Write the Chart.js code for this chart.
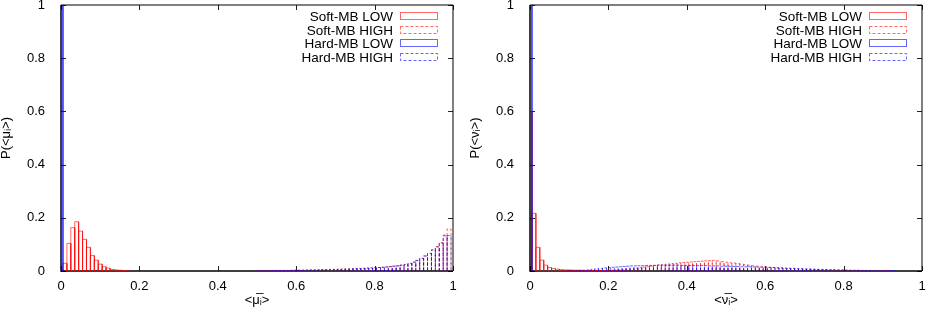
<!DOCTYPE html>
<html>
<head>
<meta charset="utf-8">
<script src="https://cdn.jsdelivr.net/npm/chart.js@4.4.1/dist/chart.umd.min.js"></script>
<style>
  html, body { margin: 0; padding: 0; background: #fff; }
  #wrap { position: relative; width: 926px; height: 314px; overflow: hidden; }
  canvas { position: absolute; top: 0; }
  #muChart { left: 0; }
  #nuChart { left: 469px; }
</style>
</head>
<body>
<div id="wrap">
  <canvas id="muChart" width="463" height="314"></canvas>
  <canvas id="nuChart" width="457" height="314"></canvas>
</div>
<script>
// histogram bins are 0.01 wide, centred on k * binWidth
const binWidth = 0.01;
const seriesNames = ['Soft-MB LOW', 'Soft-MB HIGH', 'Hard-MB LOW', 'Hard-MB HIGH'];
const axisTicks = [0, 0.2, 0.4, 0.6, 0.8, 1];

// <mu_i> panel
const muSoftLowStart = 0;
const muSoftLow = [0.005, 0.029, 0.104, 0.163, 0.185, 0.150, 0.119, 0.089, 0.058, 0.041,
                   0.026, 0.016, 0.011, 0.006, 0.004, 0.003, 0.002, 0.001];
const muHardLowStart = 0;
const muHardLow = [1.0];
const muSoftHighStart = 50;
const muSoftHigh = [0.001, 0.001, 0.001, 0.001, 0.002, 0.002, 0.002, 0.002, 0.002, 0.003,
                    0.003, 0.003, 0.003, 0.004, 0.004, 0.004, 0.005, 0.005, 0.005, 0.006,
                    0.006, 0.007, 0.007, 0.008, 0.008, 0.009, 0.010, 0.010, 0.011, 0.012,
                    0.013, 0.013, 0.014, 0.015, 0.017, 0.018, 0.020, 0.022, 0.025, 0.029,
                    0.034, 0.040, 0.048, 0.057, 0.067, 0.080, 0.092, 0.107, 0.135, 0.158];
const muHardHighStart = 50;
const muHardHigh = [0.001, 0.001, 0.001, 0.001, 0.001, 0.002, 0.002, 0.002, 0.002, 0.002,
                    0.003, 0.003, 0.003, 0.003, 0.004, 0.004, 0.004, 0.005, 0.005, 0.006,
                    0.006, 0.006, 0.007, 0.007, 0.008, 0.009, 0.009, 0.010, 0.011, 0.011,
                    0.012, 0.013, 0.014, 0.015, 0.016, 0.018, 0.019, 0.022, 0.024, 0.028,
                    0.033, 0.039, 0.047, 0.056, 0.066, 0.079, 0.090, 0.105, 0.132, 0.133];

// <nu_i> panel
const nuSoftLowStart = 0;
const nuSoftLow = [0.600, 0.217, 0.089, 0.041, 0.022, 0.013, 0.009, 0.007, 0.005, 0.004,
                   0.004, 0.003, 0.003, 0.003, 0.002, 0.002, 0.002, 0.002, 0.001, 0.001,
                   0.001, 0.001, 0.001, 0.001, 0.001];
const nuHardLowStart = 0;
const nuHardLow = [1.0];
const nuSoftHighStart = 8;
const nuSoftHigh = [0.001, 0.001,
                    0.001, 0.001, 0.001, 0.001, 0.001, 0.002, 0.002, 0.002, 0.002, 0.002,
                    0.003, 0.003, 0.004, 0.005, 0.006, 0.007, 0.008, 0.010, 0.012, 0.014,
                    0.016, 0.018, 0.021, 0.023, 0.025, 0.026, 0.028, 0.029, 0.031, 0.032,
                    0.033, 0.034, 0.035, 0.036, 0.037, 0.038, 0.039, 0.040, 0.038, 0.035,
                    0.033, 0.031, 0.030, 0.028, 0.026, 0.024, 0.022, 0.020, 0.018, 0.016,
                    0.015, 0.014, 0.013, 0.012, 0.011, 0.010, 0.010, 0.009, 0.008, 0.008,
                    0.007, 0.007, 0.006, 0.006, 0.005, 0.005, 0.004, 0.004, 0.003, 0.003,
                    0.003, 0.002, 0.002, 0.002, 0.002, 0.001, 0.001, 0.001, 0.001, 0.001,
                    0.001, 0.001, 0.001];
const nuHardHighStart = 10;
const nuHardHigh = [0.001, 0.001, 0.001, 0.002, 0.003, 0.004, 0.006, 0.008, 0.010, 0.012,
                    0.013, 0.014, 0.015, 0.016, 0.017, 0.018, 0.019, 0.019, 0.020, 0.020,
                    0.021, 0.021, 0.021, 0.022, 0.022, 0.022, 0.022, 0.022, 0.022, 0.021,
                    0.021, 0.021, 0.021, 0.020, 0.020, 0.020, 0.019, 0.019, 0.019, 0.018,
                    0.018, 0.018, 0.017, 0.017, 0.016, 0.016, 0.016, 0.015, 0.015, 0.014,
                    0.014, 0.013, 0.013, 0.012, 0.012, 0.011, 0.010, 0.010, 0.009, 0.009,
                    0.008, 0.008, 0.007, 0.007, 0.006, 0.006, 0.005, 0.005, 0.005, 0.004,
                    0.004, 0.004, 0.003, 0.003, 0.003, 0.002, 0.002, 0.002, 0.002, 0.001,
                    0.001, 0.001, 0.001, 0.001];

const RED = 'rgba(255, 0, 0, 0.6)';
const BLUE = 'rgba(0, 0, 255, 0.6)';
const FONT = { family: '"Liberation Sans", Arial, sans-serif', size: 13, lineHeight: 1 };

// gnuplot-style boxes: each bin is an outline down to zero
const boxOutline = (values, start) => {
    const pts = [];
    values.forEach((v, i) => {
        if (!v) return;
        const k = start + i;
        const x0 = (k - 0.5) * binWidth, x1 = (k + 0.5) * binWidth;
        pts.push({ x: x0, y: 0 }, { x: x0, y: v }, { x: x1, y: v }, { x: x1, y: 0 }, { x: x1, y: null });
    });
    return pts;
};

const framePlugin = {
    id: 'frame',
    beforeDatasetsDraw(chart) {
        const { ctx, chartArea, scales: { x, y } } = chart;
        const l = Math.round(chartArea.left), r = Math.round(chartArea.right);
        const t = Math.round(chartArea.top), b = Math.round(chartArea.bottom);
        ctx.save();
        ctx.lineWidth = 1;
        ctx.strokeStyle = '#222';
        axisTicks.forEach(v => {
            const px = Math.round(x.getPixelForValue(v)) + 0.5;
            const py = Math.round(y.getPixelForValue(v)) + 0.5;
            ctx.beginPath();
            ctx.moveTo(px, b); ctx.lineTo(px, b - 5);
            ctx.moveTo(px, t); ctx.lineTo(px, t + 5);
            ctx.moveTo(l, py); ctx.lineTo(l + 5, py);
            ctx.moveTo(r, py); ctx.lineTo(r - 5, py);
            ctx.stroke();
        });
        ctx.strokeStyle = '#000';
        ctx.beginPath();
        ctx.moveTo(l, t); ctx.lineTo(r, t); ctx.lineTo(r, b);
        ctx.stroke();
        ctx.lineWidth = 1.5;
        ctx.beginPath();
        ctx.moveTo(l, t); ctx.lineTo(l, b); ctx.lineTo(r, b);
        ctx.stroke();
        ctx.restore();
    }
};

const legendPlugin = {
    id: 'boxLegend',
    afterDraw(chart) {
        const { ctx, chartArea } = chart;
        ctx.save();
        ctx.font = '13.5px "Liberation Sans", Arial, sans-serif';
        ctx.textAlign = 'right';
        ctx.textBaseline = 'middle';
        ctx.lineWidth = 1;
        chart.data.datasets.forEach((ds, i) => {
            const cy = Math.round(chartArea.top + 11 + i * 13.6);
            ctx.fillStyle = '#000';
            ctx.fillText(ds.label, chartArea.right - 60, cy + 1);
            ctx.strokeStyle = ds.borderColor;
            ctx.setLineDash(ds.borderDash || []);
            ctx.strokeRect(Math.round(chartArea.right - 53) + 0.5, cy - 3.5, 37, 7);
        });
        ctx.restore();
    }
};

const tickText = v => String(Math.round(v * 10) / 10);

const makePanel = (canvasId, lists, xTitle, yTitle) => {
    const styles = [
        { color: RED, dash: [], order: 4 },
        { color: RED, dash: [3, 2], order: 3 },
        { color: BLUE, dash: [], order: 2 },
        { color: BLUE, dash: [3, 2], order: 1 }
    ];
    const datasets = lists.map(([values, start], i) => ({
        label: seriesNames[i],
        data: boxOutline(values, start),
        showLine: true,
        borderColor: styles[i].color,
        borderDash: styles[i].dash,
        borderWidth: 1,
        pointRadius: 0,
        tension: 0,
        spanGaps: false,
        order: styles[i].order
    }));

    const canvas = document.getElementById(canvasId);
    return new Chart(canvas.getContext('2d'), {
        type: 'scatter',
        data: { datasets },
        options: {
            responsive: false,
            animation: false,
            layout: { padding: { top: 5, right: canvas.width - 453, bottom: 0, left: 0 } },
            plugins: { legend: { display: false }, tooltip: { enabled: false } },
            scales: {
                x: {
                    type: 'linear', min: 0, max: 1,
                    afterBuildTicks: s => { s.ticks = axisTicks.map(v => ({ value: v })); },
                    ticks: { color: '#000', font: FONT, padding: 1, maxRotation: 0, callback: tickText },
                    grid: { display: false },
                    border: { display: false },
                    title: { display: true, text: xTitle, color: '#000', font: FONT, padding: { top: 0, bottom: 7 } },
                    afterFit: s => { s.height = 43; s.paddingLeft = 0; s.paddingRight = 0; }
                },
                y: {
                    type: 'linear', min: 0, max: 1,
                    afterBuildTicks: s => { s.ticks = axisTicks.map(v => ({ value: v })); },
                    ticks: { color: '#000', font: FONT, padding: 8, callback: tickText },
                    grid: { display: false },
                    border: { display: false },
                    title: { display: true, text: yTitle, color: '#000', font: FONT, padding: 0 },
                    afterFit: s => { s.width = 61; s.paddingTop = 0; s.paddingBottom = 0; }
                }
            }
        },
        plugins: [framePlugin, legendPlugin]
    });
};

makePanel('muChart',
    [[muSoftLow, muSoftLowStart], [muSoftHigh, muSoftHighStart], [muHardLow, muHardLowStart], [muHardHigh, muHardHighStart]],
    '<\u03BC\u0305\u1D62>', 'P(<\u03BC\u0305\u1D62>)');
makePanel('nuChart',
    [[nuSoftLow, nuSoftLowStart], [nuSoftHigh, nuSoftHighStart], [nuHardLow, nuHardLowStart], [nuHardHigh, nuHardHighStart]],
    '<\u03BD\u0305\u1D62>', 'P(<\u03BD\u0305\u1D62>)');
</script>
</body>
</html>
